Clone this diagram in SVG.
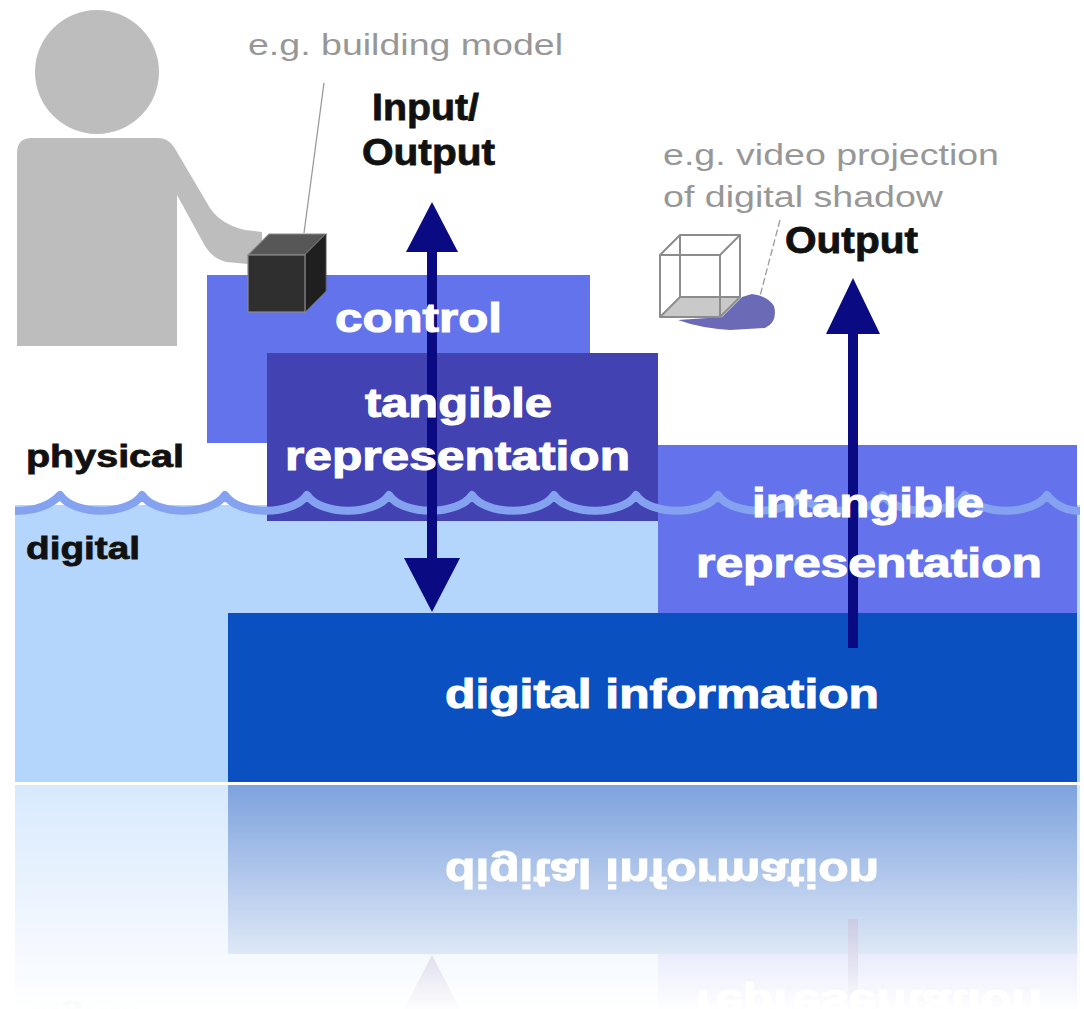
<svg xmlns="http://www.w3.org/2000/svg" xmlns:xlink="http://www.w3.org/1999/xlink" width="1084" height="1009" viewBox="0 0 1084 1009">
  <style>
    text { font-family: "Liberation Sans", Arial, sans-serif; }
    .note { font-size: 30px; fill: #979797; }
    .io { font-size: 37px; font-weight: bold; fill: #111111; stroke: #111111; stroke-width: 0.8; }
    .side { font-size: 32px; font-weight: bold; fill: #111111; stroke: #111111; stroke-width: 0.8; }
    .layer { font-size: 41px; font-weight: bold; fill: #ffffff; stroke: #ffffff; stroke-width: 1.1; }
    .leader { stroke: #9a9a9a; stroke-width: 1.3; fill: none; }
    .shaft { stroke: #0a0a82; stroke-width: 10; }
    .head { fill: #0a0a82; }
    .glass { fill: none; stroke: #8c8c8c; stroke-width: 2; stroke-linejoin: round; }
  </style>
  <defs>
    <linearGradient id="fade" gradientUnits="userSpaceOnUse" x1="0" y1="785" x2="0" y2="1012">
      <stop offset="0" stop-color="#ffffff" stop-opacity="0.53"/>
      <stop offset="1" stop-color="#ffffff" stop-opacity="0"/>
    </linearGradient>
    <mask id="fadeMask" maskUnits="userSpaceOnUse" x="0" y="785" width="1084" height="224">
      <rect x="0" y="785" width="1084" height="224" fill="url(#fade)"/>
    </mask>
    <clipPath id="below">
      <rect x="0" y="785" width="1084" height="224"/>
    </clipPath>
  </defs>

  <rect width="1084" height="1009" fill="#ffffff"/>

  <g id="scene">
    <!-- digital layer background -->
    <g id="digital-zone">
      <rect x="15" y="505" width="1065" height="277" fill="#b5d6fc"/>
    </g>

    <!-- layered blocks -->
    <g id="digital-information">
      <rect x="228" y="613" width="849" height="169" fill="#0a50c0"/>
    </g>
    <g id="intangible-representation">
      <rect x="658" y="445" width="419" height="168" fill="#6473eb"/>
    </g>
    <g id="control">
      <rect x="207" y="275" width="383" height="168" fill="#6373ec"/>
    </g>
    <g id="tangible-representation">
      <rect x="267" y="353" width="391" height="168" fill="#4242b2"/>
    </g>

    <!-- boundary between physical and digital -->
    <g id="waterline">
      <path d="M15,511 Q45,511 60,495 C74,516 128,516 142,495 C156,516 211,516 225,495 C239,516 293,516 307,495 C321,516 375,516 389,495 C403,516 458,516 472,495 C486,516 540,516 554,495 C568,516 622,516 636,495 C650,516 704,516 718,495 C732,516 787,516 801,495 C815,516 869,516 883,495 C897,516 951,516 965,495 C979,516 1033,516 1047,495 Q1060,511 1080,511"
            fill="none" stroke="#84a2f0" stroke-width="8" stroke-linejoin="round"/>
    </g>

    <!-- user with building model -->
    <g id="user">
      <circle cx="97" cy="72" r="62" fill="#bdbdbd"/>
      <path d="M17,153 Q17,138 32,138 L158,138 Q168,138 174,147 L207,203 Q218,224 245,230 L262,232 L262,266 L248,264 L226,262 Q212,258 205,246 L177,195 L177,346 L17,346 Z" fill="#bdbdbd"/>
    </g>
    <g id="building-model">
      <polygon points="248,255 305,255 326,234 269,234" fill="#575757" stroke="#8a8a8a" stroke-width="1.2"/>
      <polygon points="305,255 326,234 326,291 305,312" fill="#1f1f1f" stroke="#555555" stroke-width="1"/>
      <rect x="248" y="255" width="57" height="57" fill="#2f2f2f" stroke="#8a8a8a" stroke-width="1.2"/>
      <line class="leader" x1="324" y1="83" x2="304" y2="233"/>
    </g>

    <!-- projected shadow of the model -->
    <g id="projection">
      <polygon points="660,317 720,317 740,297 680,297" fill="#c9c9c9"/>
      <path d="M678,320 L722,317 L742,297 L752,294 Q768,296 774,306 Q778,322 765,328 L730,330 Q700,328 678,320 Z" fill="#6a6ab6"/>
      <rect class="glass" x="660" y="255" width="60" height="62"/>
      <polyline class="glass" points="660,255 680,235 740,235 740,297 720,317"/>
      <line class="glass" x1="720" y1="255" x2="740" y2="235"/>
      <polyline class="glass" points="660,317 680,297 740,297"/>
      <line class="glass" x1="680" y1="235" x2="680" y2="297"/>
      <line class="leader" x1="780" y1="220" x2="760" y2="296" stroke-dasharray="7 3"/>
    </g>

    <!-- data flow arrows -->
    <g id="connectors">
      <line class="shaft" x1="432" y1="245" x2="432" y2="562"/>
      <polygon class="head" points="432,202 406,252 458,252"/>
      <polygon class="head" points="404,558 460,558 432,612"/>
      <line class="shaft" x1="853" y1="330" x2="853" y2="648"/>
      <polygon class="head" points="853,278 826,334 880,334"/>
    </g>

    <!-- labels -->
    <g id="labels">
      <text class="note" x="248" y="55" textLength="315" lengthAdjust="spacingAndGlyphs">e.g. building model</text>
      <text class="io" x="372" y="120" textLength="107" lengthAdjust="spacingAndGlyphs">Input/</text>
      <text class="io" x="362" y="165" textLength="133" lengthAdjust="spacingAndGlyphs">Output</text>
      <text class="note" x="663" y="165" textLength="336" lengthAdjust="spacingAndGlyphs">e.g. video projection</text>
      <text class="note" x="663" y="207" textLength="280" lengthAdjust="spacingAndGlyphs">of digital shadow</text>
      <text class="io" x="785" y="253" font-size="36" textLength="133" lengthAdjust="spacingAndGlyphs">Output</text>
      <text class="layer" x="335" y="332" font-size="40" textLength="167" lengthAdjust="spacingAndGlyphs">control</text>
      <text class="layer" x="365" y="417" textLength="187" lengthAdjust="spacingAndGlyphs">tangible</text>
      <text class="layer" x="285" y="470" textLength="345" lengthAdjust="spacingAndGlyphs">representation</text>
      <text class="side" x="26" y="467" textLength="158" lengthAdjust="spacingAndGlyphs">physical</text>
      <text class="side" x="26" y="559" textLength="114" lengthAdjust="spacingAndGlyphs">digital</text>
      <text class="layer" x="752" y="517" font-size="40" textLength="232" lengthAdjust="spacingAndGlyphs">intangible</text>
      <text class="layer" x="696" y="577" font-size="40" textLength="346" lengthAdjust="spacingAndGlyphs">representation</text>
      <text class="layer" x="445" y="708" font-size="44" textLength="434" lengthAdjust="spacingAndGlyphs">digital information</text>
    </g>
  </g>

  <!-- mirrored, fading floor reflection -->
  <g id="reflection" clip-path="url(#below)" mask="url(#fadeMask)">
    <use xlink:href="#scene" href="#scene" transform="matrix(1 0 0 -1 0 1567)"/>
  </g>
</svg>
